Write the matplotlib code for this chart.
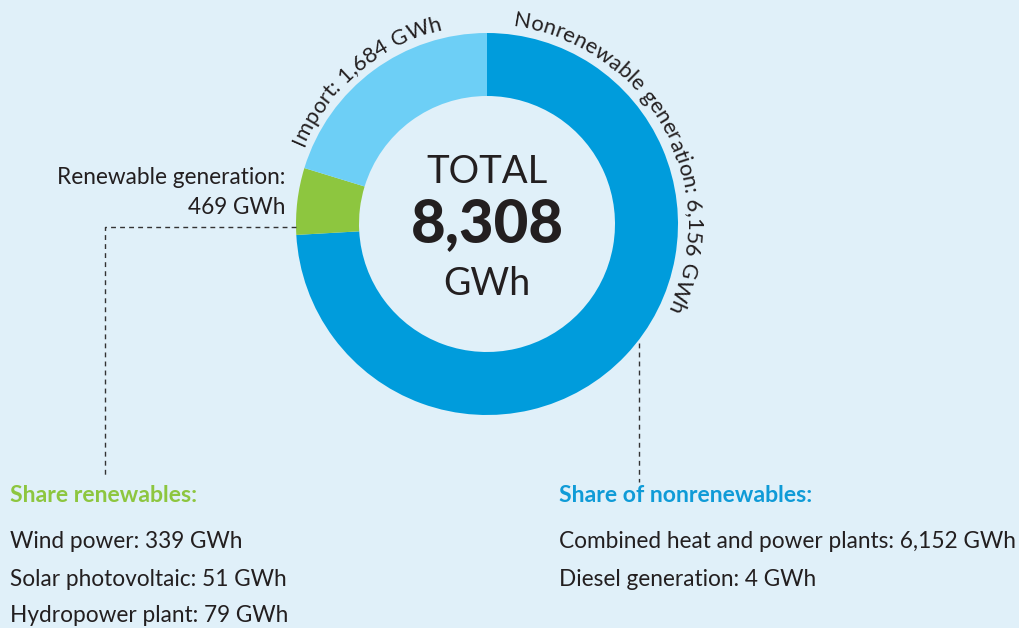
import numpy as np
import matplotlib
matplotlib.use("Agg")
import matplotlib.pyplot as plt
from matplotlib.font_manager import FontProperties, findfont, get_font

# data
segments = ["Nonrenewable generation", "Renewable generation", "Import"]
values = [6156, 469, 1684]
colors = ["#009cdc", "#8dc63f", "#6dcff6"]
total_label = "8,308"
renew_items = ["Wind power: 339 GWh", "Solar photovoltaic: 51 GWh", "Hydropower plant: 79 GWh"]
nonrenew_items = ["Combined heat and power plants: 6,152 GWh", "Diesel generation: 4 GWh"]

W, H, DPI = 1019, 628, 100
BG = "#e0f0f9"
TXT = "#231f20"
FONT = "Lato"
FS = 16.3
cx, cy = 487, H - 224
R_OUT, R_IN = 191, 128

fig = plt.figure(figsize=(W / DPI, H / DPI), dpi=DPI, facecolor=BG)
ax = fig.add_axes([0, 0, 1, 1])
ax.set_facecolor(BG)

ax.pie(values, colors=colors, startangle=90, counterclock=False,
       center=(cx, cy), radius=R_OUT,
       wedgeprops=dict(width=R_OUT - R_IN, linewidth=0))
ax.set_xlim(0, W)
ax.set_ylim(0, H)
ax.set_aspect("equal")
ax.axis("off")


def arc_text(s, mid_deg, r, fs, color=TXT):
    fp = FontProperties(family=FONT, size=fs)
    font = get_font(findfont(fp))
    font.set_size(fs, DPI)
    advs = [font.load_char(ord(c)).linearHoriAdvance / 65536 for c in s]
    a = np.radians(mid_deg) + sum(advs) / 2 / r
    for c, w in zip(s, advs):
        th = a - w / 2 / r
        ax.text(cx + r * np.cos(th), cy + r * np.sin(th), c,
                rotation=np.degrees(th) - 90, rotation_mode="anchor",
                ha="center", va="baseline", fontproperties=fp, color=color)
        a -= w / r


arc_text("Import: 1,684 GWh", 130, 199, 15.8)
arc_text("Nonrenewable generation: 6,156 GWh", 28.5, 199, 15.8)

# centre
ax.text(cx, H - 172, "TOTAL", ha="center", va="center", fontsize=27.5,
        family=FONT, color=TXT)
ax.text(cx, H - 224, total_label, ha="center", va="center", fontsize=43,
        family=FONT, fontweight="black", color=TXT)
ax.text(cx, H - 284, "GWh", ha="center", va="center", fontsize=27,
        family=FONT, color=TXT)

# renewable label
ax.text(285, H - 178, "Renewable generation:", ha="right", va="center",
        fontsize=FS, family=FONT, color=TXT)
ax.text(285, H - 207, "469 GWh", ha="right", va="center",
        fontsize=FS, family=FONT, color=TXT)

# leader lines
dash = dict(color="#333333", lw=1, ls=(0, (3.5, 3)))
ax.plot([296, 105, 105], [H - 227, H - 227, H - 475], **dash)
ax.plot([639, 639], [H - 343, H - 482], **dash)

# lists
ax.text(10, H - 495, "Share renewables:", ha="left", va="center",
        fontsize=16.6, family=FONT, fontweight="bold", color="#8dc63f")
for i, s in enumerate(renew_items):
    ax.text(10, H - 542 - 37 * i, s, ha="left", va="center",
            fontsize=FS, family=FONT, color=TXT)

ax.text(559, H - 495, "Share of nonrenewables:", ha="left", va="center",
        fontsize=16.6, family=FONT, fontweight="bold", color="#0f9bd7")
for i, s in enumerate(nonrenew_items):
    ax.text(559, H - 542 - 37 * i, s, ha="left", va="center",
            fontsize=FS, family=FONT, color=TXT)

fig.savefig("out.png", dpi=DPI, facecolor=BG)
